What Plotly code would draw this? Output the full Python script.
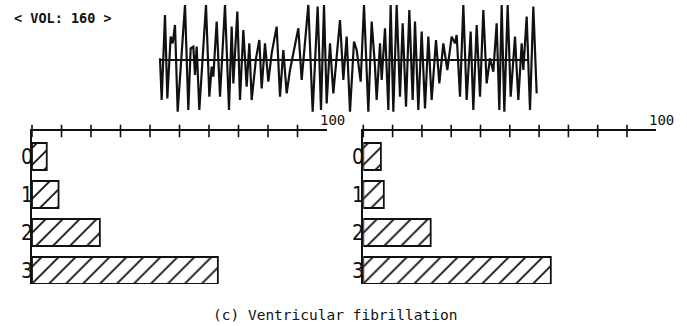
import plotly.graph_objects as go

# ---------------- data ----------------
# waveform: time (arbitrary sample units) and amplitude (up positive)
wave_t = [30, 35, 45, 52, 62, 68, 75, 83, 105, 115, 122, 130, 135, 140, 148, 168, 178, 185, 190, 200,
          210, 225, 237, 245, 250, 262, 270, 280, 290, 298, 305, 318, 328, 335, 345, 355, 365, 380, 390, 400,
          410, 420, 435, 445, 455, 460, 475, 488, 503, 513, 522, 530, 540, 550, 570, 580, 590, 600, 612, 620,
          632, 642, 655, 665, 675, 680, 690, 695, 705, 715, 722, 730, 740, 750, 758, 768, 778, 788, 795, 805,
          815, 825, 835, 845, 858, 868, 880, 892, 905, 915, 920, 930, 940, 950, 962, 970, 980, 990, 1000, 1010,
          1020, 1030, 1040, 1048, 1055, 1063, 1073, 1082, 1095, 1105, 1115, 1120, 1130, 1140, 1150, 1160]
wave_a = [5, -120, 135, -115, 70, 50, 105, -155, 165, -150, 35, 40, -45, 40, -150, 165, -110, -20, -50, 115,
          -110, 165, -150, 100, -70, 145, -120, 90, -80, 50, -120, 5, 60, -85, 50, -65, 20, 100, -110, 30,
          -100, -30, 45, 95, -60, 0, 165, -155, 160, -150, 165, -130, 50, -100, 120, -60, 70, -155, 55, 30,
          -65, 165, -155, 115, -20, -120, 50, -60, 95, -150, 165, -155, 165, -110, 110, -140, 150, -120, 115, -150,
          85, -145, 70, -120, 60, -70, 50, -30, 70, 50, 75, -110, 165, -120, 85, -150, 105, -110, 150, -70,
          5, -35, 110, -150, 165, -155, 165, -110, 70, -120, 50, -30, 130, -150, 160, -100]
baseline_t = [30, 1135]

categories = [0, 1, 2, 3]
left_values = [5, 9, 23, 63]
right_values = [6, 7, 23, 64]
axis_ticks = [0, 10, 20, 30, 40, 50, 60, 70, 80, 90]
axis_end_label = "100"
volume_text = "< VOL: 160 >"
caption_text = "(c) Ventricular fibrillation"

# ---------------- layout helpers ----------------
W, H = 687, 326
INK = "#111111"
MONO = "DejaVu Sans Mono, Liberation Mono, monospace"
NARROW = "Liberation Sans Narrow, DejaVu Sans Condensed, DejaVu Sans Mono, sans-serif"


def fx(p):
    return p / W


def fy(p):
    return 1 - p / H


Y_TOP = -0.671
Y_BOT = 3.355

fig = go.Figure()

# waveform
fig.add_trace(go.Scatter(x=wave_t, y=wave_a, mode="lines", xaxis="x", yaxis="y",
                         line=dict(color=INK, width=2.2), hoverinfo="skip"))
fig.add_trace(go.Scatter(x=baseline_t, y=[0, 0], mode="lines", xaxis="x", yaxis="y",
                         line=dict(color=INK, width=1.8), hoverinfo="skip"))

for vals, xa, ya in [(left_values, "x2", "y2"), (right_values, "x3", "y3")]:
    fig.add_trace(go.Bar(
        x=vals, y=categories, orientation="h", width=0.71, xaxis=xa, yaxis=ya,
        marker=dict(color="white", line=dict(color=INK, width=1.8),
                    pattern=dict(shape="/", fgcolor=INK, bgcolor="white", size=12, solidity=0.15,
                                 fgopacity=1)),
        hoverinfo="skip"))
    fig.add_trace(go.Scatter(
        x=axis_ticks, y=[Y_TOP] * len(axis_ticks), mode="markers", xaxis=xa, yaxis=ya,
        cliponaxis=False,
        marker=dict(symbol="line-ns", size=9, line=dict(color=INK, width=1.6)),
        hoverinfo="skip"))

annotations = []
for xa, ya in [("x2", "y2"), ("x3", "y3")]:
    for c in categories:
        annotations.append(dict(x=0, y=c, xref=xa, yref=ya, text=str(c), showarrow=False,
                                xanchor="right", yanchor="middle", xshift=3,
                                font=dict(family=NARROW, size=21, color=INK)))
    annotations.append(dict(x=100, y=Y_TOP, xref=xa, yref=ya, text=axis_end_label, showarrow=False,
                            xanchor="center", yanchor="bottom", xshift=5, yshift=1,
                            font=dict(family=MONO, size=14, color=INK)))

annotations.append(dict(x=fx(12), y=fy(17.5), xref="paper", yref="paper", text="<b>" + volume_text + "</b>",
                        showarrow=False, xanchor="left", yanchor="middle",
                        font=dict(family=MONO, size=13.5, color=INK)))
annotations.append(dict(x=fx(335), y=fy(315), xref="paper", yref="paper", text=caption_text,
                        showarrow=False, xanchor="center", yanchor="middle",
                        font=dict(family=MONO, size=14.5, color=INK)))

bar_xaxis = dict(range=[0, 100], side="top", showline=True, linecolor=INK, linewidth=1.6,
                 showticklabels=False, ticks="", showgrid=False, zeroline=False, fixedrange=True)
bar_yaxis = dict(range=[Y_BOT, Y_TOP], domain=[fy(284), fy(131)], showline=True, linecolor=INK,
                 linewidth=1.6, showticklabels=False, ticks="", showgrid=False, zeroline=False,
                 fixedrange=True)

fig.update_layout(
    width=W, height=H, autosize=False,
    margin=dict(l=0, r=0, t=0, b=0),
    paper_bgcolor="white", plot_bgcolor="rgba(0,0,0,0)",
    showlegend=False, bargap=0.29,
    xaxis=dict(domain=[fx(150), fx(550)], range=[0, 1200], visible=False, fixedrange=True),
    yaxis=dict(domain=[fy(116.7), fy(3.3)], range=[-170, 170], visible=False, fixedrange=True),
    xaxis2=dict(bar_xaxis, domain=[fx(32), fx(327)], anchor="y2"),
    yaxis2=dict(bar_yaxis, anchor="x2"),
    xaxis3=dict(bar_xaxis, domain=[fx(363.3), fx(656.3)], anchor="y3"),
    yaxis3=dict(bar_yaxis, anchor="x3"),
    annotations=annotations,
)

fig.write_html("out.html")
